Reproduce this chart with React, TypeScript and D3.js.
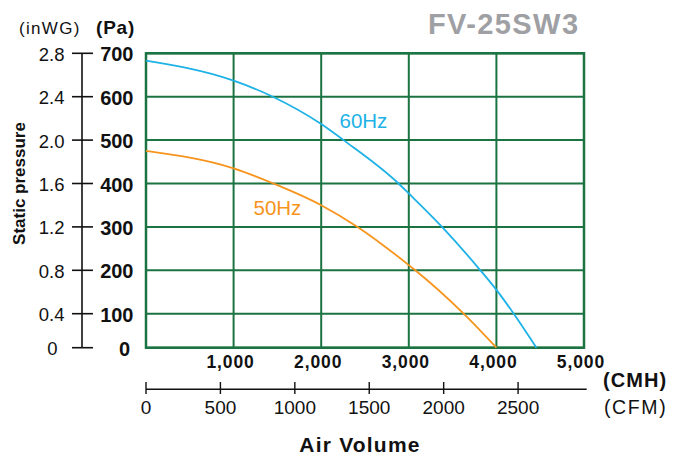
import React from "react";
import * as d3 from "d3";

const title = "FV-25SW3";
const paTicks = [0, 100, 200, 300, 400, 500, 600, 700];
const inwgLabels = ["0", "0.4", "0.8", "1.2", "1.6", "2.0", "2.4", "2.8"];
const cmhTicks = [1000, 2000, 3000, 4000, 5000];
const cmhGrid = [0, 1000, 2000, 3000, 4000, 5000];
const cfmTicks = [0, 500, 1000, 1500, 2000, 2500];

const cmh60 = [0, 1000, 1448, 2000, 2255, 2883, 3000, 3379, 3817, 4000, 4198, 4457];
const pa60 = [683, 637, 600, 537, 500, 400, 377, 300, 200, 155, 100, 0];
const cmh50 = [0, 1000, 1455, 2000, 2415, 3000, 3074, 3626, 4000];
const pa50 = [475, 435, 400, 350, 300, 212, 200, 100, 0];

const CMH_PER_CFM = 1.699;

const GREEN = "#1b7342";
const BLUE = "#1eb2e6";
const ORANGE = "#f7941d";
const FONT = "'Liberation Sans', Arial, Helvetica, sans-serif";

export default function App() {
  const x = d3.scaleLinear().domain([0, 5000]).range([146, 584]);
  const y = d3.scaleLinear().domain([0, 100, 700]).range([347.7, 313.7, 53.3]);
  const xc = d3.scaleLinear().domain([0, 5000 / CMH_PER_CFM]).range([146, 584]);

  const line = d3
    .line<[number, number]>()
    .x((d) => x(d[0]))
    .y((d) => y(d[1]))
    .curve(d3.curveMonotoneX);

  const d60 = line(cmh60.map((c, i) => [c, pa60[i]] as [number, number])) || "";
  const d50 = line(cmh50.map((c, i) => [c, pa50[i]] as [number, number])) || "";

  const axisX = 82;

  return (
    <svg
      width={674}
      height={460}
      style={{ position: "absolute", left: 0, top: 0, background: "#fff" }}
      fontFamily={FONT}
    >
      {/* Title */}
      <text x={428} y={34.3} fontSize={29} fontWeight="bold" fill="#9fa0a4" letterSpacing={1.4}>
        {title}
      </text>

      {/* unit headers */}
      <text x={19} y={34.3} fontSize={17} letterSpacing={1.3} fill="#111">
        (inWG)
      </text>
      <text x={96} y={34.3} fontSize={19} fontWeight="bold" letterSpacing={0.8} fill="#111">
        (Pa)
      </text>

      {/* Static pressure */}
      <text
        transform={`translate(25,183.5) rotate(-90)`}
        textAnchor="middle"
        fontSize={17}
        fontWeight="bold"
        fill="#111"
      >
        Static pressure
      </text>

      {/* Grid */}
      {paTicks.map((p) => (
        <line key={"h" + p} x1={x(0)} x2={x(5000)} y1={y(p)} y2={y(p)} stroke={GREEN} strokeWidth={2} />
      ))}
      {cmhGrid.map((c) => (
        <line key={"v" + c} x1={x(c)} x2={x(c)} y1={y(700)} y2={y(0)} stroke={GREEN} strokeWidth={2} />
      ))}
      <rect
        x={x(0)}
        y={y(700)}
        width={x(5000) - x(0)}
        height={y(0) - y(700)}
        fill="none"
        stroke={GREEN}
        strokeWidth={2.5}
      />

      {/* Curves */}
      <path d={d60} fill="none" stroke={BLUE} strokeWidth={1.8} />
      <path d={d50} fill="none" stroke={ORANGE} strokeWidth={1.8} />
      <text x={339.5} y={128.3} fontSize={20.5} fill={BLUE}>
        60Hz
      </text>
      <text x={253.5} y={215} fontSize={20.5} fill={ORANGE}>
        50Hz
      </text>

      {/* Left axis */}
      <line x1={axisX} x2={axisX} y1={y(700)} y2={y(0)} stroke="#111" strokeWidth={1.6} />
      {paTicks.map((p, i) => (
        <g key={"t" + p}>
          <line x1={72} x2={93} y1={y(p)} y2={y(p)} stroke="#111" strokeWidth={1.6} />
          <text
            x={p === 0 ? 130 : 133.5}
            y={y(p) + 8}
            textAnchor="end"
            fontSize={20}
            fontWeight="bold"
            fill="#111"
          >
            {p}
          </text>
          <text
            x={p === 0 ? 57.5 : 64.5}
            y={y(p) + 7.5}
            textAnchor="end"
            fontSize={18.5}
            fill="#111"
          >
            {inwgLabels[i]}
          </text>
        </g>
      ))}

      {/* CMH labels */}
      {cmhTicks.map((c) => (
        <text
          key={"c" + c}
          x={x(c) - 3}
          y={368.3}
          textAnchor="middle"
          fontSize={17.5}
          fontWeight="bold"
          letterSpacing={0.9}
          fill="#111"
        >
          {d3.format(",")(c)}
        </text>
      ))}
      <text x={603} y={386.7} fontSize={20} fontWeight="bold" letterSpacing={1.1} fill="#111">
        (CMH)
      </text>

      {/* CFM axis */}
      <line x1={xc(0)} x2={586.7} y1={389.3} y2={389.3} stroke="#111" strokeWidth={1.6} />
      {cfmTicks.map((c) => (
        <g key={"f" + c}>
          <line x1={xc(c)} x2={xc(c)} y1={382} y2={394} stroke="#111" strokeWidth={1.4} />
          <text x={xc(c)} y={414} textAnchor="middle" fontSize={19} fill="#111">
            {c}
          </text>
        </g>
      ))}
      <text x={604} y={414} fontSize={19.5} letterSpacing={1.6} fill="#111">
        (CFM)
      </text>

      {/* Air Volume */}
      <text x={360} y={451.7} textAnchor="middle" fontSize={21} fontWeight="bold" letterSpacing={1.2} fill="#111">
        Air Volume
      </text>
    </svg>
  );
}
